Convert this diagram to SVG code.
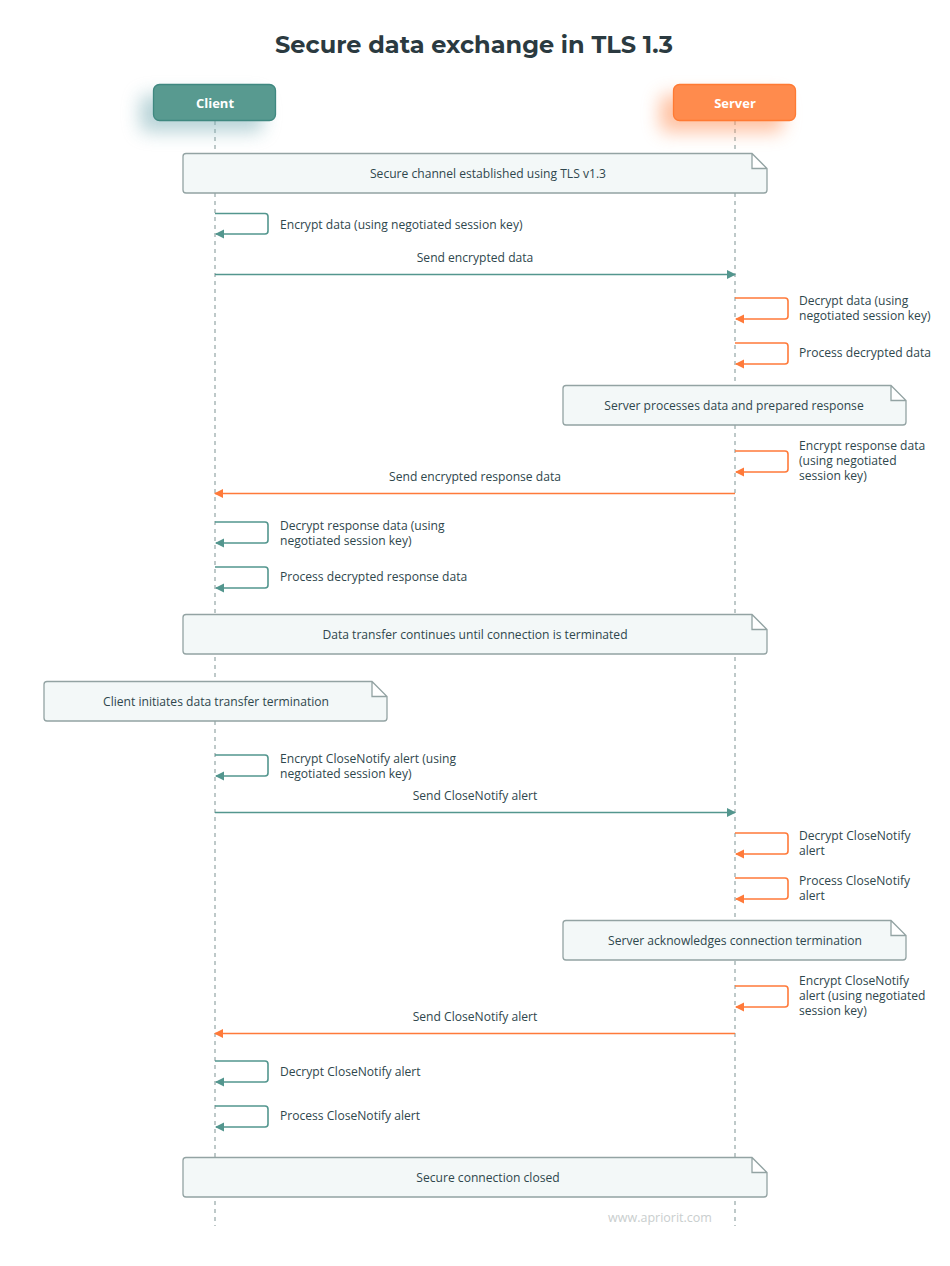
<svg xmlns="http://www.w3.org/2000/svg" width="950" height="1266" viewBox="0 0 950 1266">
<style>
.t{font-family:"Open Sans","Liberation Sans",sans-serif;font-size:12.1px;fill:#2f474d}
.c{text-anchor:middle}
.ll{stroke:#aebcbc;stroke-width:1.6;stroke-dasharray:4 4;fill:none}
.note{fill:#f3f8f8;stroke:#93a3a3;stroke-width:1.3}
.tl{stroke:#53968e;stroke-width:1.6;fill:none}
.or{stroke:#ff7a3a;stroke-width:1.6;fill:none}
.hd{font-family:"Open Sans","Liberation Sans",sans-serif;font-size:13px;font-weight:700;fill:#ffffff;text-anchor:middle}
</style>
<defs>
<marker id="at" markerWidth="10" markerHeight="10" refX="8" refY="4.5" orient="auto" markerUnits="userSpaceOnUse"><path d="M0,0 L9,4.5 L0,9 z" fill="#53968e"/></marker>
<marker id="ao" markerWidth="10" markerHeight="10" refX="8" refY="4.5" orient="auto" markerUnits="userSpaceOnUse"><path d="M0,0 L9,4.5 L0,9 z" fill="#ff7a3a"/></marker>
<filter id="gt" x="-50%" y="-80%" width="200%" height="300%"><feGaussianBlur stdDeviation="9"/></filter>
</defs>
<rect width="950" height="1266" fill="#ffffff"/>
<text x="474" y="53" text-anchor="middle" font-family="Montserrat,'Open Sans','Liberation Sans',sans-serif" font-size="24" font-weight="700" fill="#2b3a40">Secure data exchange in TLS 1.3</text>

<g id="lifelines">
<line class="ll" x1="215" y1="121" x2="215" y2="1226"/>
<line class="ll" x1="735" y1="121" x2="735" y2="1226"/>
</g>

<g id="client">
<rect x="140" y="95" width="123" height="37" rx="6" fill="#7fb0b8" opacity="0.55" filter="url(#gt)"/>
<rect x="153.5" y="84.5" width="122" height="36" rx="6" fill="#589a90" stroke="#3f8880" stroke-width="1.3"/>
<text class="hd" x="215" y="107.5">Client</text>
</g>
<g id="server">
<rect x="660" y="95" width="123" height="37" rx="6" fill="#ff9a66" opacity="0.6" filter="url(#gt)"/>
<rect x="673.5" y="84.5" width="122" height="36" rx="6" fill="#ff8b4d" stroke="#ff7a33" stroke-width="1.3"/>
<text class="hd" x="735" y="107.5">Server</text>
</g>

<g id="note1">
<path class="note" d="M186,153.5 H752 L767,168.5 V190 a3,3 0 0 1 -3,3 H186 a3,3 0 0 1 -3,-3 V156.5 a3,3 0 0 1 3,-3 z M752,153.5 V168.5 H767"/>
<text class="t c" x="488" y="178">Secure channel established using TLS v1.3</text>
</g>
<g id="note2">
<path class="note" d="M566,385.5 H891 L906,400.5 V422 a3,3 0 0 1 -3,3 H566 a3,3 0 0 1 -3,-3 V388.5 a3,3 0 0 1 3,-3 z M891,385.5 V400.5 H906"/>
<text class="t c" x="734" y="410">Server processes data and prepared response</text>
</g>
<g id="note3">
<path class="note" d="M186,614.5 H752 L767,629.5 V651 a3,3 0 0 1 -3,3 H186 a3,3 0 0 1 -3,-3 V617.5 a3,3 0 0 1 3,-3 z M752,614.5 V629.5 H767"/>
<text class="t c" x="475" y="639">Data transfer continues until connection is terminated</text>
</g>
<g id="note4">
<path class="note" d="M47,681.5 H372 L387,696.5 V718 a3,3 0 0 1 -3,3 H47 a3,3 0 0 1 -3,-3 V684.5 a3,3 0 0 1 3,-3 z M372,681.5 V696.5 H387"/>
<text class="t c" x="216" y="706">Client initiates data transfer termination</text>
</g>
<g id="note5">
<path class="note" d="M566,920.5 H891 L906,935.5 V957 a3,3 0 0 1 -3,3 H566 a3,3 0 0 1 -3,-3 V923.5 a3,3 0 0 1 3,-3 z M891,920.5 V935.5 H906"/>
<text class="t c" x="735" y="945">Server acknowledges connection termination</text>
</g>
<g id="note6">
<path class="note" d="M186,1157.5 H752 L767,1172.5 V1194 a3,3 0 0 1 -3,3 H186 a3,3 0 0 1 -3,-3 V1160.5 a3,3 0 0 1 3,-3 z M752,1157.5 V1172.5 H767"/>
<text class="t c" x="488" y="1182">Secure connection closed</text>
</g>

<g id="connectors">
<path class="tl" d="M215,213.5 H265 a3,3 0 0 1 3,3 V231 a3,3 0 0 1 -3,3 H216" marker-end="url(#at)"/>
<path class="tl" d="M215,274.5 H735" marker-end="url(#at)"/>
<path class="or" d="M735,298 H785 a3,3 0 0 1 3,3 V316 a3,3 0 0 1 -3,3 H736" marker-end="url(#ao)"/>
<path class="or" d="M735,343 H785 a3,3 0 0 1 3,3 V361 a3,3 0 0 1 -3,3 H736" marker-end="url(#ao)"/>
<path class="or" d="M735,451 H785 a3,3 0 0 1 3,3 V469 a3,3 0 0 1 -3,3 H736" marker-end="url(#ao)"/>
<path class="or" d="M735,493.5 H215" marker-end="url(#ao)"/>
<path class="tl" d="M215,522 H265 a3,3 0 0 1 3,3 V540 a3,3 0 0 1 -3,3 H216" marker-end="url(#at)"/>
<path class="tl" d="M215,567 H265 a3,3 0 0 1 3,3 V585 a3,3 0 0 1 -3,3 H216" marker-end="url(#at)"/>
<path class="tl" d="M215,755 H265 a3,3 0 0 1 3,3 V773 a3,3 0 0 1 -3,3 H216" marker-end="url(#at)"/>
<path class="tl" d="M215,812.5 H735" marker-end="url(#at)"/>
<path class="or" d="M735,833 H785 a3,3 0 0 1 3,3 V851 a3,3 0 0 1 -3,3 H736" marker-end="url(#ao)"/>
<path class="or" d="M735,878 H785 a3,3 0 0 1 3,3 V896 a3,3 0 0 1 -3,3 H736" marker-end="url(#ao)"/>
<path class="or" d="M735,986 H785 a3,3 0 0 1 3,3 V1004 a3,3 0 0 1 -3,3 H736" marker-end="url(#ao)"/>
<path class="or" d="M735,1033.5 H215" marker-end="url(#ao)"/>
<path class="tl" d="M215,1061 H265 a3,3 0 0 1 3,3 V1079 a3,3 0 0 1 -3,3 H216" marker-end="url(#at)"/>
<path class="tl" d="M215,1106 H265 a3,3 0 0 1 3,3 V1124 a3,3 0 0 1 -3,3 H216" marker-end="url(#at)"/>
</g>

<g id="labels">
<text class="t" x="280" y="229">Encrypt data (using negotiated session key)</text>
<text class="t c" x="475" y="262">Send encrypted data</text>
<text class="t" x="799" y="305">Decrypt data (using</text>
<text class="t" x="799" y="320">negotiated session key)</text>
<text class="t" x="799" y="357">Process decrypted data</text>
<text class="t" x="799" y="450">Encrypt response data</text>
<text class="t" x="799" y="465">(using negotiated</text>
<text class="t" x="799" y="480">session key)</text>
<text class="t c" x="475" y="481">Send encrypted response data</text>
<text class="t" x="280" y="530">Decrypt response data (using</text>
<text class="t" x="280" y="545">negotiated session key)</text>
<text class="t" x="280" y="581">Process decrypted response data</text>
<text class="t" x="280" y="763">Encrypt CloseNotify alert (using</text>
<text class="t" x="280" y="778">negotiated session key)</text>
<text class="t c" x="475" y="800">Send CloseNotify alert</text>
<text class="t" x="799" y="840">Decrypt CloseNotify</text>
<text class="t" x="799" y="855">alert</text>
<text class="t" x="799" y="885">Process CloseNotify</text>
<text class="t" x="799" y="900">alert</text>
<text class="t" x="799" y="985">Encrypt CloseNotify</text>
<text class="t" x="799" y="1000">alert (using negotiated</text>
<text class="t" x="799" y="1015">session key)</text>
<text class="t c" x="475" y="1021">Send CloseNotify alert</text>
<text class="t" x="280" y="1076">Decrypt CloseNotify alert</text>
<text class="t" x="280" y="1120">Process CloseNotify alert</text>
</g>
<text x="660" y="1222" text-anchor="middle" font-family="'Open Sans','Liberation Sans',sans-serif" font-size="12.5" fill="#c9cece">www.apriorit.com</text>
</svg>
